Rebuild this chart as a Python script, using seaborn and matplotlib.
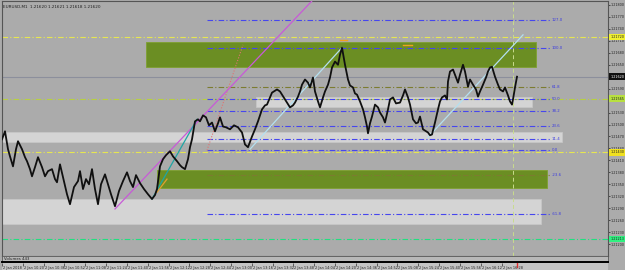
import matplotlib
matplotlib.use("Agg")
import matplotlib.pyplot as plt
from matplotlib.patches import Rectangle
import pandas as pd
import seaborn as sns

# ---------------- data ----------------
bar = [2, 5, 8, 10, 13, 16, 18, 22, 25, 27,
       30, 32, 35, 38, 42, 45, 48, 52, 55, 57,
       60, 63, 67, 70, 74, 78, 80, 83, 86, 89,
       92, 95, 98, 101, 105, 108, 111, 115, 119, 123,
       127, 130, 133, 136, 140, 144, 148, 152, 155, 157,
       160, 163, 166, 170, 173, 177, 180, 182, 185, 188,
       190, 192, 195, 198, 200, 203, 206, 209, 212, 215,
       218, 220, 223, 226, 230, 234, 238, 242, 245, 248,
       252, 255, 258, 262, 265, 267, 270, 272, 275, 277,
       280, 282, 285, 287, 290, 293, 295, 298, 300, 302,
       305, 308, 310, 313, 315, 318, 320, 323, 325, 328,
       330, 332, 335, 338, 340, 342, 345, 348, 350, 353,
       355, 357, 360, 363, 365, 367, 368, 370, 372, 375,
       378, 380, 383, 385, 388, 390, 393, 396, 400, 403,
       405, 408, 410, 413, 416, 418, 420, 423, 426, 428,
       430, 432, 435, 438, 440, 442, 445, 447, 448, 450,
       453, 455, 458, 460, 463, 465, 468, 470, 473, 476,
       478, 480, 483, 486, 488, 490, 492, 495, 498, 500,
       503, 505, 508, 510, 512, 513, 515, 517]

close = [1.21463, 1.21483, 1.21438, 1.21420, 1.21395, 1.21438, 1.21458, 1.21438, 1.21418, 1.21408,
         1.21388, 1.21370, 1.21393, 1.21418, 1.21393, 1.21370, 1.21383, 1.21388, 1.21363, 1.21355,
         1.21400, 1.21368, 1.21325, 1.21300, 1.21343, 1.21358, 1.21383, 1.21338, 1.21363, 1.21350,
         1.21388, 1.21338, 1.21300, 1.21350, 1.21375, 1.21350, 1.21325, 1.21295, 1.21333, 1.21358,
         1.21380, 1.21358, 1.21343, 1.21373, 1.21353, 1.21338, 1.21325, 1.21313, 1.21323, 1.21338,
         1.21395, 1.21413, 1.21423, 1.21433, 1.21420, 1.21408, 1.21398, 1.21393, 1.21388, 1.21413,
         1.21443, 1.21463, 1.21508, 1.21513, 1.21508, 1.21523, 1.21518, 1.21498, 1.21505, 1.21483,
         1.21503, 1.21518, 1.21495, 1.21493, 1.21488, 1.21498, 1.21493, 1.21480, 1.21450, 1.21443,
         1.21470, 1.21488, 1.21508, 1.21538, 1.21548, 1.21550, 1.21568, 1.21580, 1.21585, 1.21588,
         1.21583, 1.21575, 1.21563, 1.21555, 1.21543, 1.21548, 1.21555, 1.21570, 1.21583, 1.21600,
         1.21613, 1.21605, 1.21593, 1.21618, 1.21583, 1.21558, 1.21543, 1.21568, 1.21583, 1.21600,
         1.21618, 1.21643, 1.21658, 1.21650, 1.21675, 1.21693, 1.21650, 1.21613, 1.21598, 1.21593,
         1.21578, 1.21575, 1.21558, 1.21538, 1.21518, 1.21495, 1.21478, 1.21503, 1.21520, 1.21550,
         1.21543, 1.21530, 1.21518, 1.21505, 1.21538, 1.21563, 1.21568, 1.21553, 1.21555, 1.21573,
         1.21588, 1.21568, 1.21550, 1.21513, 1.21503, 1.21505, 1.21520, 1.21488, 1.21483, 1.21480,
         1.21473, 1.21475, 1.21505, 1.21538, 1.21558, 1.21568, 1.21573, 1.21563, 1.21608, 1.21633,
         1.21638, 1.21625, 1.21605, 1.21625, 1.21650, 1.21633, 1.21595, 1.21613, 1.21600, 1.21588,
         1.21570, 1.21583, 1.21600, 1.21618, 1.21633, 1.21643, 1.21645, 1.21620, 1.21600, 1.21588,
         1.21583, 1.21593, 1.21573, 1.21558, 1.21550, 1.21563, 1.21593, 1.21620]

# supply/demand zones: (bar_start, bar_end, low, high)
green_zones = [(146, 536, 1.21645, 1.21708), (157, 547, 1.21340, 1.21385)]
grey_zones = [(2, 562, 1.21455, 1.21480), (256, 532, 1.21543, 1.21570), (2, 541, 1.21250, 1.21313)]

# fibonacci
fib_start_bar, fib_end_bar = 207, 243
fib_zero, fib_hundred = 1.21435, 1.21693
fib_levels = [127.0, 100.0, 61.8, 50.0, 38.2, 23.6, 11.4, 0.0, -23.6, -61.8]

# full-width horizontal levels
yellow_levels = [1.21720, 1.21430]
yellowgreen_levels = [1.21565]
green_levels = [1.21213]
bid_price = 1.21620

# trend lines: (bar0, price0, bar1, price1)
magenta_line = (115, 1.21288, 313, 1.21813)
teal_line = (152, 1.21313, 197, 1.21513)
lightblue_lines = [(250, 1.21438, 342, 1.21693), (428, 1.21468, 523, 1.21725)]
orange_line = (157, 1.21330, 167, 1.21363)
orange_marks = [(340, 347, 1.21713), (403, 412, 1.21700)]
vline_bar = 513

price_ticks = [1.21800 - 0.00030 * k for k in range(21)]
time_labels = ["2 Jan 2018", "2 Jan 10:20", "2 Jan 10:36", "2 Jan 10:52", "2 Jan 11:08",
               "2 Jan 11:24", "2 Jan 11:40", "2 Jan 11:56", "2 Jan 12:12", "2 Jan 12:28",
               "2 Jan 12:44", "2 Jan 13:00", "2 Jan 13:16", "2 Jan 13:32", "2 Jan 13:48",
               "2 Jan 14:04", "2 Jan 14:20", "2 Jan 14:36", "2 Jan 14:52", "2 Jan 15:08",
               "2 Jan 15:24", "2 Jan 15:40", "2 Jan 15:56", "2 Jan 16:12", "2 Jan 16:28"]
title_text = "EURUSD,M1  1.21620 1.21621 1.21618 1.21620"
volume_text = "Volumes 443"

# ---------------- figure ----------------
W, H = 625, 270
BG = "#ababab"


def box(x0, y0, x1, y1):
    return [x0 / W, 1 - y1 / H, (x1 - x0) / W, (y1 - y0) / H]


fig = plt.figure(figsize=(W / 100, H / 100), dpi=100)
fig.patch.set_facecolor(BG)

ax = fig.add_axes(box(2, 1, 608, 256))
ax.set_facecolor(BG)
ax.set_xlim(2, 608)
ax.set_ylim(1.2117, 1.2181)

for x0, x1, lo, hi in grey_zones:
    ax.add_patch(Rectangle((x0, lo), x1 - x0, hi - lo, facecolor="#d4d4d4",
                           edgecolor="#c8c8c8", lw=0.5, zorder=1))
for x0, x1, lo, hi in green_zones:
    ax.add_patch(Rectangle((x0, lo), x1 - x0, hi - lo, facecolor="#6b8e23",
                           edgecolor="#7fa030", lw=0.6, zorder=1))

dash = (0, (5, 2, 1, 2))
for p in yellow_levels:
    ax.axhline(p, color="#e6e650", lw=0.8, ls=dash, zorder=2)
for p in yellowgreen_levels:
    ax.axhline(p, color="#b8d040", lw=0.8, ls=dash, zorder=2)
for p in green_levels:
    ax.axhline(p, color="#20e080", lw=0.8, ls=dash, zorder=2)
ax.axhline(bid_price, color="#8c8f9c", lw=0.8, zorder=2)
ax.axvline(vline_bar, color="#c8dc8c", lw=0.7, ls=(0, (4, 3)), zorder=2)

rng = fib_hundred - fib_zero
for lvl in fib_levels:
    p = fib_zero + rng * lvl / 100.0
    col = "#7c7c30" if lvl in (61.8, -23.6) else "#4646ee"
    ax.hlines(p, fib_start_bar, 550, colors=col, lw=0.8, linestyles=dash, zorder=3)
    ax.text(552, p, f"{lvl:.1f}", fontsize=2.8, color="#3a3ae0", va="center", ha="left", zorder=5)
ax.plot([fib_start_bar, fib_end_bar], [fib_zero, 1.21700], color="#e07272", lw=0.8,
        ls=(0, (1, 1.5)), zorder=3)

ax.plot(magenta_line[::2], magenta_line[1::2], color="#c85ad8", lw=0.9, zorder=3)
ax.plot(teal_line[::2], teal_line[1::2], color="#1fa5a5", lw=0.9, zorder=3)
for ln in lightblue_lines:
    ax.plot(ln[::2], ln[1::2], color="#b4e0f0", lw=0.9, zorder=3)
ax.plot(orange_line[::2], orange_line[1::2], color="#e0a030", lw=0.9, zorder=3)
for x0, x1, p in orange_marks:
    ax.plot([x0, x1], [p, p], color="#f0a020", lw=1.0, zorder=3)

df = pd.DataFrame({"bar": bar, "close": close})
sns.lineplot(data=df, x="bar", y="close", ax=ax, color="#101010", lw=1.3, sort=False, zorder=4)
ax.set_xlabel("")
ax.set_ylabel("")

ax.set_xticks([])
ax.yaxis.tick_right()
ax.set_yticks(price_ticks)
ax.set_yticklabels([f"{p:.5f}" for p in price_ticks])
ax.tick_params(axis="y", length=1.5, width=0.5, pad=0.5, labelsize=2.4, colors="#202020")
for s in ax.spines.values():
    s.set_color("#555555")
    s.set_linewidth(0.8)

ax.text(3, 1.21795, title_text, fontsize=3.0, color="#202020", va="center", ha="left", zorder=6)

# right-axis price tags (drawn over the scale, as in the terminal)
tags = [(yellow_levels[0], "#f0f030", "#202020"),
        (bid_price, "#101010", "white"),
        (yellowgreen_levels[0], "#b8e040", "#202020"),
        (yellow_levels[1], "#f0e020", "#202020"),
        (green_levels[0], "#30f080", "#202020")]
for p, fc, tc in tags:
    ax.text(1.0035, p, f"{p:.5f}", transform=ax.get_yaxis_transform(), fontsize=2.4,
            color=tc, va="center", ha="left", clip_on=False, zorder=7,
            bbox=dict(facecolor=fc, edgecolor="none", pad=0.9))

# volume sub-window
axv = fig.add_axes(box(2, 256, 608, 262))
axv.set_facecolor("#b8b8b8")
axv.set_xticks([])
axv.set_yticks([])
for s in axv.spines.values():
    s.set_color("#555555")
    s.set_linewidth(0.6)
axv.spines["bottom"].set_color("black")
axv.spines["bottom"].set_linewidth(1.4)
axv.text(0.004, 0.5, volume_text, transform=axv.transAxes, fontsize=2.8, va="center",
         ha="left", color="#202020")

# time scale
axt = fig.add_axes(box(2, 263, 608, 270))
axt.set_facecolor("#c4c4c4")
axt.set_xlim(2, 608)
axt.set_ylim(0, 1)
tpos = [1 + 20.85 * k for k in range(len(time_labels))]
axt.set_xticks(tpos)
axt.tick_params(axis="x", direction="in", length=2, width=0.5, top=True, bottom=False,
                labeltop=False, labelbottom=False, colors="#303030")
axt.set_yticks([])
for s in axt.spines.values():
    s.set_visible(False)
for x, lab in zip(tpos, time_labels):
    axt.text(x + 1, 0.35, lab, fontsize=2.5, color="#202020", va="center", ha="left")
axt.plot([517, 517], [0.45, 1.0], color="#e03030", lw=1.0)

fig.savefig("out.png", dpi=100, facecolor=BG)
